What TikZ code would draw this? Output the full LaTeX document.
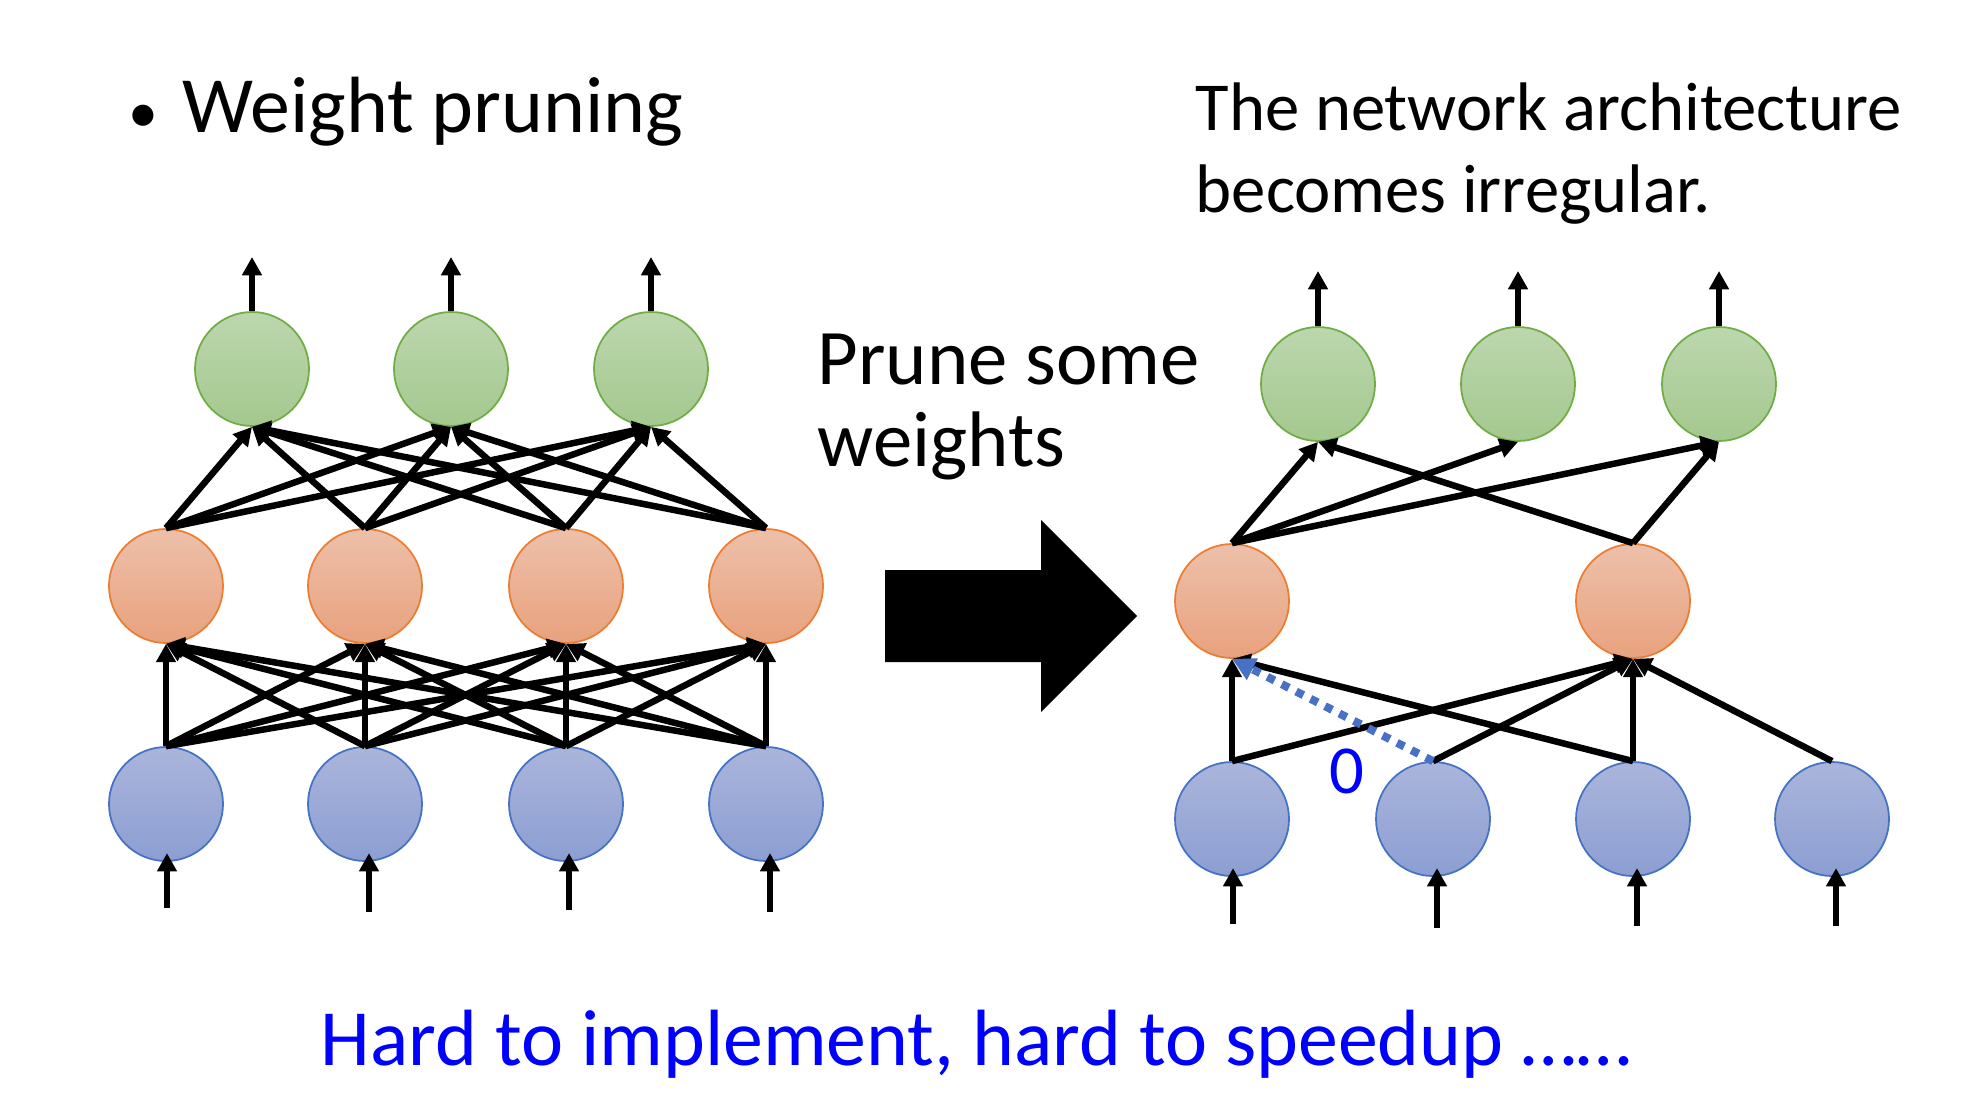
\documentclass[tikz,border=0pt]{standalone}
\usepackage{fontspec}
\setmainfont{Carlito}
\usetikzlibrary{arrows.meta}
\definecolor{gtop}{RGB}{188,215,174}
\definecolor{gbot}{RGB}{164,200,142}
\definecolor{gline}{RGB}{112,173,71}
\definecolor{otop}{RGB}{237,192,170}
\definecolor{obot}{RGB}{232,162,126}
\definecolor{oline}{RGB}{237,125,49}
\definecolor{btop}{RGB}{170,181,219}
\definecolor{bbot}{RGB}{140,158,210}
\definecolor{bline}{RGB}{68,114,196}
\definecolor{dotblue}{RGB}{72,112,196}
\definecolor{pureblue}{RGB}{0,0,255}
\begin{document}
\begin{tikzpicture}[x=0.1mm,y=-0.1mm,
  neuron/.style={circle,minimum size=11.4mm,inner sep=0pt,line width=0.5pt},
  gnode/.style={neuron,draw=gline,top color=gtop,bottom color=gbot},
  onode/.style={neuron,draw=oline,top color=otop,bottom color=obot},
  bnode/.style={neuron,draw=bline,top color=btop,bottom color=bbot},
  edge/.style={line width=1.85pt,-{Triangle[length=5.2pt,width=5.4pt]}},
  inedge/.style={edge,shorten >=-2.5pt},
  zeroedge/.style={draw=dotblue,line width=2.3pt,dash pattern=on 2.3pt off 2.3pt,
     -{Triangle[length=6.5pt,width=6.5pt,fill=dotblue]}},
  bigtxt/.style={inner sep=0pt,anchor=base west,font=\fontsize{22.7}{26}\selectfont},
  midtxt/.style={inner sep=0pt,anchor=base west,font=\fontsize{19.55}{23}\selectfont},
]
\useasboundingbox (0,0) rectangle (1976,1116);

% ---------- texts ----------
\node[bigtxt] (title) at (128,132) {{\fontsize{17}{17}\selectfont •}\hspace{0.3em}Weight pruning};
\node[midtxt] (irr1) at (1195,130) {The network architecture};
\node[midtxt] (irr2) at (1195,212) {becomes irregular.};
\node[bigtxt,font=\fontsize{22.4}{26}\selectfont] (prune1) at (817,384) {Prune some};
\node[bigtxt,font=\fontsize{22.4}{26}\selectfont] (prune2) at (817,466) {weights};
\node[bigtxt,text=pureblue] (hard) at (320,1065) {Hard to implement, hard to speedup ……};

% ---------- big arrow ----------
\fill[black] (885,570) -- (1041,570) -- (1041,520) -- (1137,616) -- (1041,712) -- (1041,662) -- (885,662) -- cycle;

% ---------- left network ----------
\foreach \i/\x in {1/252,2/451,3/651} {
  \node[gnode] (lg\i) at (\x,369) {};
  \coordinate (lt\i) at (\x,257);
}
\foreach \i/\x in {1/166,2/365,3/566,4/766} {
  \node[onode] (lo\i) at (\x,586) {};
  \node[bnode] (lb\i) at (\x,804) {};
}
\coordinate (li1) at (167,908);
\coordinate (li2) at (369,912);
\coordinate (li3) at (569,910);
\coordinate (li4) at (770,912);

\foreach \i in {1,2,3} \draw[edge] (lg\i.north) -- (lt\i);
\foreach \i in {1,2,3,4} \draw[inedge] (li\i) -- (li\i |- lb\i.south);
\foreach \a in {1,2,3,4} {
  \foreach \b in {1,2,3} \draw[edge] (lo\a.north) -- (lg\b.south);
  \foreach \b in {1,2,3,4} \draw[edge] (lb\a.north) -- (lo\b.south);
}

% ---------- right network ----------
\foreach \i/\x in {1/1318,2/1518,3/1719} {
  \node[gnode] (rg\i) at (\x,384) {};
  \coordinate (rt\i) at (\x,271);
}
\node[onode] (ro1) at (1232,601) {};
\node[onode] (ro2) at (1633,601) {};
\foreach \i/\x in {1/1232,2/1433,3/1633,4/1832} {
  \node[bnode] (rb\i) at (\x,819) {};
}
\coordinate (ri1) at (1233,924);
\coordinate (ri2) at (1437,928);
\coordinate (ri3) at (1637,926);
\coordinate (ri4) at (1836,926);

\foreach \i in {1,2,3} \draw[edge] (rg\i.north) -- (rt\i);
\foreach \i in {1,2,3,4} \draw[inedge] (ri\i) -- (ri\i |- rb\i.south);

\draw[edge] (ro1.north) -- (rg1.south);
\draw[edge] (ro1.north) -- (rg2.south);
\draw[edge] (ro1.north) -- (rg3.south);
\draw[edge] (ro2.north) -- (rg1.south);
\draw[edge] (ro2.north) -- (rg3.south);

\draw[edge] (rb1.north) -- (ro1.south);
\draw[edge] (rb1.north) -- (ro2.south);
\draw[edge] (rb2.north) -- (ro2.south);
\draw[edge] (rb3.north) -- (ro1.south);
\draw[edge] (rb3.north) -- (ro2.south);
\draw[edge] (rb4.north) -- (ro2.south);
\draw[zeroedge] (rb2.north) -- (ro1.south);
\node[text=pureblue,inner sep=0pt,font=\fontsize{19.55}{23}\selectfont] (zero) at (1347,771) {0};
\end{tikzpicture}
\end{document}
